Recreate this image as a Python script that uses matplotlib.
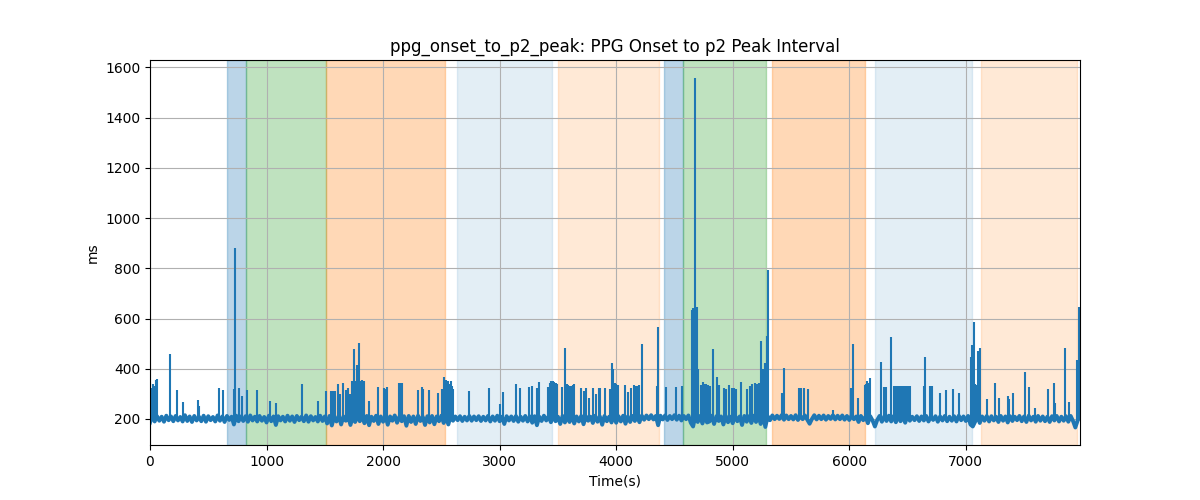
import numpy as np
import matplotlib
matplotlib.use("Agg")
from matplotlib import pyplot as plt

step_s = 20
baseline_ms = [
    185, 214, 190, 211, 193, 209, 189, 213, 195, 210, 191, 212, 194, 208, 190, 215, 192, 210, 188, 212,
    194, 209, 191, 213, 189, 211, 195, 208, 190, 214, 193, 210, 188, 212, 196, 209, 178, 213, 191, 210,
    192, 211, 189, 214, 194, 209, 190, 212, 193, 208, 186, 213, 191, 210, 176, 211, 194, 209, 190, 213,
    193, 210, 188, 212, 195, 209, 191, 214, 189, 211, 194, 208, 190, 213, 192, 210, 182, 212, 174, 209,
    190, 213, 178, 210, 193, 212, 176, 209, 188, 214, 191, 210, 183, 212, 175, 209, 192, 213, 180, 210,
    189, 212, 177, 210, 193, 214, 185, 209, 191, 211, 173, 212, 188, 210, 180, 213, 192, 209, 176, 211,
    186, 212, 179, 210, 191, 213, 184, 209, 178, 212, 193, 210, 195, 211, 192, 209, 194, 212, 193, 210,
    195, 211, 192, 209, 194, 212, 190, 210, 193, 213, 191, 209, 180, 211, 194, 210, 192, 212, 189, 209,
    193, 212, 190, 210, 185, 211, 175, 209, 192, 213, 194, 210, 187, 212, 191, 209, 180, 212, 186, 210,
    188, 213, 182, 210, 190, 212, 179, 211, 193, 209, 184, 213, 189, 210, 177, 212, 191, 209, 186, 214,
    185, 211, 190, 213, 181, 210, 188, 212, 192, 209, 187, 213, 197, 214, 199, 215, 198, 212, 175, 213,
    198, 214, 196, 212, 199, 215, 197, 213, 194, 212, 199, 214, 185, 170, 213, 188, 212, 182, 210, 186,
    190, 213, 180, 211, 192, 210, 178, 212, 187, 209, 183, 213, 191, 210, 176, 212, 189, 211, 184, 213,
    188, 212, 180, 214, 168, 211, 195, 214, 199, 213, 200, 215, 197, 214, 199, 212, 198, 215, 196, 213,
    199, 214, 197, 181, 200, 215, 198, 213, 199, 214, 197, 212, 200, 215, 198, 213, 199, 214, 197, 212,
    196, 213, 199, 210, 188, 212, 195, 209, 183, 211, 194, 170, 196, 212, 189, 210, 192, 213, 190, 211,
    187, 212, 191, 210, 185, 213, 193, 209, 195, 211, 192, 210, 194, 212, 190, 209, 196, 211, 189, 210,
    194, 212, 191, 209, 193, 211, 190, 213, 195, 210, 192, 212, 178, 170, 189, 211, 184, 210, 193, 212,
    190, 211, 194, 209, 188, 212, 193, 210, 186, 211, 192, 209, 195, 212, 191, 210, 188, 213, 194, 209,
    189, 212, 193, 210, 191, 209, 188, 211, 194, 212, 190, 209, 193, 211, 189, 212, 192, 166, 194, 210,
]
time_s = np.arange(len(baseline_ms)) * step_s

# single long beats (time in s, interval in ms)
spike_t = [3, 12, 22, 35, 48, 58, 172, 229, 281, 414, 424, 592, 629, 721, 733, 767, 787, 835, 916,
           1030, 1082, 1307, 1445, 1508, 1550, 1565, 1580, 1590, 1617, 1632, 1653, 1680, 1700, 1712,
           1731, 1745, 1754, 1764, 1774, 1785, 1797, 1807, 1816, 1834, 1883, 1954, 2005, 2015, 2030,
           2140, 2150, 2165, 2303, 2331, 2340, 2394, 2469, 2504, 2526, 2540, 2555, 2570, 2581, 2595,
           2604, 2741, 2910, 3003, 3027, 3142, 3176, 3248, 3282, 3320, 3336, 3419, 3430, 3442, 3455,
           3468, 3480, 3490, 3534, 3565, 3580, 3590, 3600, 3615, 3630, 3642, 3697, 3720, 3743, 3771,
           3800, 3829, 3850, 3860, 3903, 3950, 3963, 3977, 3991, 4000, 4020, 4072, 4100, 4129, 4149,
           4169, 4180, 4192, 4220, 4349, 4363, 4427, 4515, 4561, 4650, 4660, 4678, 4690, 4700, 4730,
           4745, 4760, 4775, 4790, 4805, 4835, 4864, 4880, 4924, 4940, 4967, 4990, 5010, 5025, 5073,
           5122, 5150, 5165, 5193, 5210, 5222, 5242, 5258, 5273, 5293, 5307, 5422, 5444, 5568, 5588,
           5614, 5643, 5860, 6014, 6031, 6074, 6131, 6140, 6151, 6165, 6180, 6271, 6300, 6315, 6361,
           6380, 6390, 6400, 6415, 6425, 6440, 6450, 6465, 6480, 6495, 6510, 6520, 6638, 6652, 6695,
           6710, 6781, 6833, 6887, 6944, 7044, 7055, 7069, 7078, 7086, 7104, 7124, 7181, 7253, 7287,
           7362, 7370, 7402, 7505, 7545, 7591, 7705, 7754, 7765, 7854, 7888, 7955, 7974, 7980]
spike_ms = [345, 325, 340, 330, 355, 360, 459, 315, 269, 275, 250, 323, 315, 319, 880, 325, 292, 315, 317,
            271, 265, 340, 270, 313, 313, 310, 313, 310, 340, 300, 345, 315, 323, 300,
            350, 345, 479, 350, 415, 350, 501, 350, 357, 350, 272, 327, 323, 320, 327,
            345, 345, 345, 315, 327, 320, 315, 305, 320, 369, 355, 350, 340, 350, 330,
            320, 313, 323, 260, 308, 338, 322, 326, 331, 325, 347, 327, 345, 350, 352,
            348, 345, 340, 327, 483, 338, 335, 331, 330, 335, 338, 325, 311, 325, 285,
            325, 299, 325, 325, 322, 320, 421, 399, 345, 340, 336, 336, 309, 325, 336,
            332, 330, 336, 499, 332, 565, 329, 328, 333, 632, 640, 1560, 645, 400, 336,
            349, 341, 338, 335, 330, 479, 368, 336, 325, 320, 336, 325, 325, 320, 349,
            319, 330, 339, 345, 340, 345, 509, 400, 421, 532, 792, 305, 403, 323, 323,
            323, 321, 237, 323, 499, 285, 336, 340, 352, 345, 363, 425, 329, 329, 525,
            333, 333, 333, 333, 333, 333, 333, 330, 333, 333, 333, 333, 333, 445, 333,
            333, 305, 315, 319, 305, 445, 495, 585, 340, 337, 472, 481, 279, 345, 285,
            292, 280, 305, 389, 328, 243, 319, 344, 265, 483, 268, 435, 645, 640]

# phase intervals (s)
span_start = [661, 822, 1506, 2635, 3500, 4410, 4577, 5339, 6223, 7133]
span_end = [822, 1506, 2530, 3451, 4367, 4577, 5286, 6137, 7054, 7957]
span_color = ['tab:blue', 'tab:green', 'tab:orange', 'tab:blue', 'tab:orange',
              'tab:blue', 'tab:green', 'tab:orange', 'tab:blue', 'tab:orange']
span_alpha = [0.3, 0.3, 0.3, 0.12, 0.17, 0.3, 0.3, 0.3, 0.12, 0.17]

fig, ax = plt.subplots(figsize=(12, 5), dpi=100)
for s, e, c, a in zip(span_start, span_end, span_color, span_alpha):
	ax.axvspan(s, e, color=c, alpha=a)
# dense beat-to-beat noise shows as a thick band
ax.plot(time_s, baseline_ms, color='tab:blue', lw=2.8)
base_at_spike = np.interp(spike_t, time_s, baseline_ms)
ax.vlines(spike_t, base_at_spike, spike_ms, color='tab:blue', lw=1.5)
ax.set_xlim(0, time_s[-1])
ax.set_title('ppg_onset_to_p2_peak: PPG Onset to p2 Peak Interval')
ax.set_xlabel('Time(s)')
ax.set_ylabel('ms')
ax.grid()
plt.savefig('out.png')
